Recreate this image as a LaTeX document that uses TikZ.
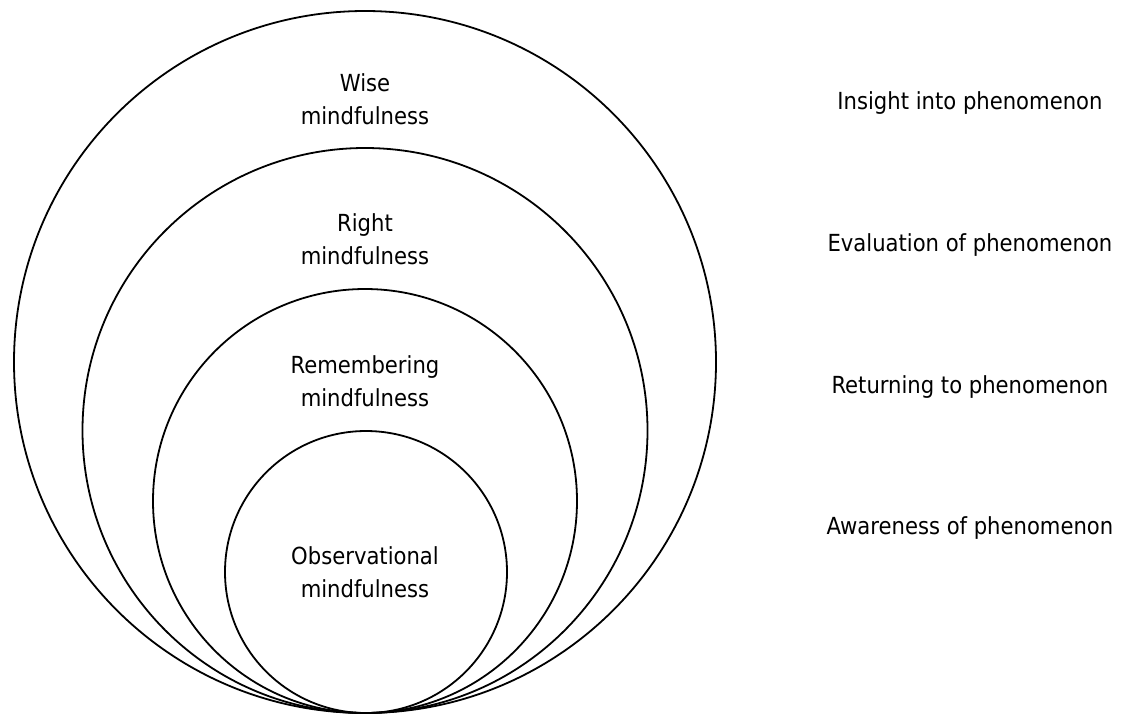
\documentclass[tikz,border=0pt]{standalone}
\usepackage{fontspec}
\setmainfont{DejaVu Sans Condensed}
\begin{document}
\begin{tikzpicture}[x=1pt,y=-1pt,
  ring/.style={circle,draw,line width=1.8pt,inner sep=0pt},
  lbl/.style={align=center,font=\fontsize{23.5}{33}\selectfont,inner sep=0pt},
  side/.style={font=\fontsize{23.5}{33}\selectfont,inner sep=0pt}]
\useasboundingbox (0,0) rectangle (1121,716);
\node[ring,minimum size=702pt] (c1) at (365,362) {};
\node[ring,minimum size=565pt] (c2) at (365,430.5) {};
\node[ring,minimum size=424pt] (c3) at (365,501) {};
\node[ring,minimum size=282pt] (c4) at (366,572) {};
\node[lbl] (t1) at (365,99) {Wise\\mindfulness};
\node[lbl] (t2) at (365,239) {Right\\mindfulness};
\node[lbl] (t3) at (365,381) {Remembering\\mindfulness};
\node[lbl] (t4) at (365,572) {Observational\\mindfulness};
\node[side] (s1) at (970,103) {Insight into phenomenon};
\node[side] (s2) at (970,245) {Evaluation of phenomenon};
\node[side] (s3) at (970,387) {Returning to phenomenon};
\node[side] (s4) at (970,528) {Awareness of phenomenon};
\end{tikzpicture}
\end{document}
